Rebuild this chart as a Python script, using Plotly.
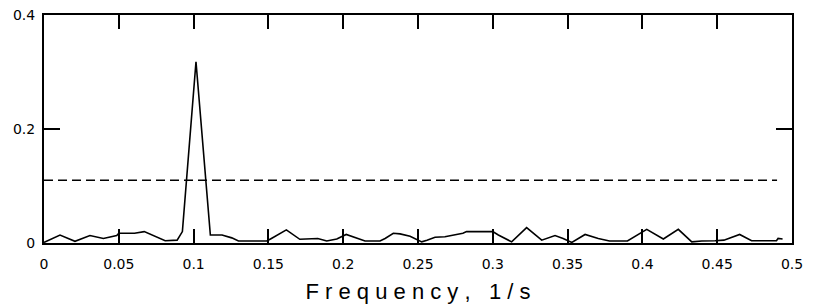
import plotly.graph_objects as go

# Spectrum (frequency in 1/s, amplitude)
freq = [0.000, 0.0107, 0.0207, 0.0307, 0.0397, 0.0486, 0.0500, 0.0605, 0.0670,
        0.0810, 0.0890, 0.0925, 0.1016, 0.1112, 0.1190, 0.1255, 0.1300, 0.1490,
        0.1520, 0.1620, 0.1710, 0.1780, 0.1830, 0.1890, 0.1957, 0.2020, 0.2100,
        0.2146, 0.2246, 0.2280, 0.2335, 0.2380, 0.2447, 0.2490, 0.2525, 0.2560,
        0.2614, 0.2680, 0.2747, 0.2800, 0.2825, 0.3000, 0.3037, 0.3126, 0.3226,
        0.3327, 0.3416, 0.3470, 0.3528, 0.3617, 0.3705, 0.3780, 0.3900, 0.3950,
        0.4029, 0.4140, 0.4240, 0.4330, 0.4397, 0.4485, 0.4545, 0.4650, 0.4730,
        0.4896, 0.4907, 0.4937]
amp = [0.001, 0.014, 0.003, 0.013, 0.008, 0.013, 0.017, 0.017, 0.020,
       0.004, 0.005, 0.020, 0.318, 0.014, 0.014, 0.009, 0.0035, 0.0035,
       0.008, 0.023, 0.0065, 0.008, 0.008, 0.0035, 0.007, 0.015, 0.008,
       0.0035, 0.0035, 0.008, 0.017, 0.016, 0.012, 0.007, 0.002, 0.005,
       0.010, 0.011, 0.015, 0.017, 0.020, 0.020, 0.014, 0.002, 0.027,
       0.005, 0.013, 0.008, 0.001, 0.015, 0.008, 0.0035, 0.0035, 0.011,
       0.024, 0.007, 0.024, 0.002, 0.0035, 0.004, 0.005, 0.015, 0.004,
       0.004, 0.008, 0.007]

# Significance threshold
threshold_x = [0.0, 0.49]
threshold_y = [0.11, 0.11]

x_ticks = [0, 0.05, 0.1, 0.15, 0.2, 0.25, 0.3, 0.35, 0.4, 0.45, 0.5]
x_labels = ["0", "0.05", "0.1", "0.15", "0.2", "0.25", "0.3", "0.35", "0.4", "0.45", "0.5"]
y_ticks = [0, 0.2, 0.4]
y_labels = ["0", "0.2", "0.4"]

fig = go.Figure()
fig.add_trace(go.Scatter(x=threshold_x, y=threshold_y, mode="lines",
                         line=dict(color="black", width=1.5, dash="9px,5px"),
                         showlegend=False, hoverinfo="skip"))
fig.add_trace(go.Scatter(x=freq, y=amp, mode="lines",
                         line=dict(color="black", width=1.6),
                         showlegend=False))

font = dict(family="DejaVu Sans, Arial, sans-serif", size=14, color="black")

fig.update_layout(
    width=814, height=307,
    margin=dict(l=44, r=22, t=15, b=64, autoexpand=False),
    paper_bgcolor="white", plot_bgcolor="white",
    font=font,
    xaxis=dict(range=[0, 0.5], tickvals=x_ticks, ticktext=x_labels,
               showline=True, linecolor="black", linewidth=2, mirror="ticks",
               ticks="inside", ticklen=14, tickwidth=2, tickcolor="black",
               showgrid=False, zeroline=False, tickfont=font,
               ticklabelstandoff=7,
               title=dict(text="F r e q u e n c y ,   1 / s",
                          font=dict(family="Liberation Sans, Arial, sans-serif", size=22, color="black"),
                          standoff=13)),
    yaxis=dict(range=[0, 0.4], tickvals=y_ticks, ticktext=y_labels,
               showline=True, linecolor="black", linewidth=2, mirror="ticks",
               ticks="inside", ticklen=16, tickwidth=2, tickcolor="black",
               showgrid=False, zeroline=False, tickfont=font,
               ticklabelstandoff=4),
)

fig.write_html("out.html", config={"displayModeBar": False},
               post_script="document.body.style.margin='0';")
